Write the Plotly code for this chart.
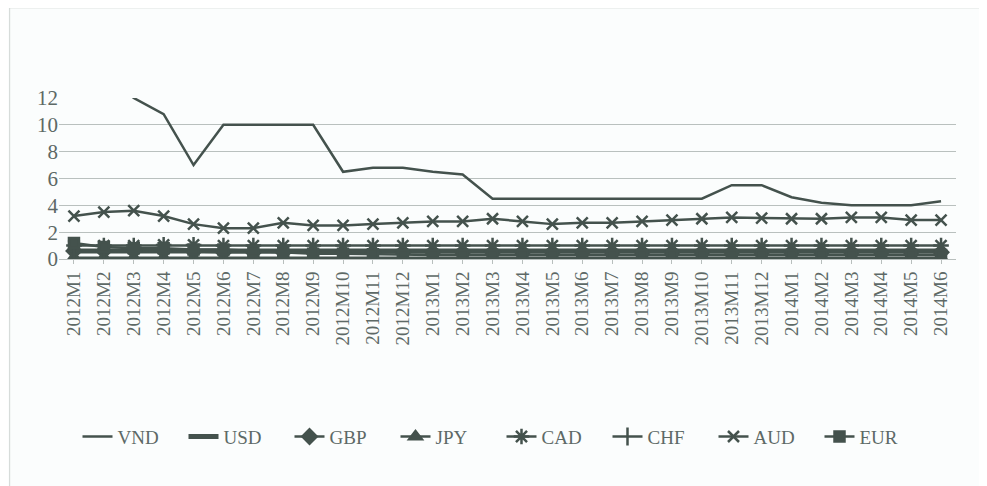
import plotly.graph_objects as go

months = ["2012M1","2012M2","2012M3","2012M4","2012M5","2012M6","2012M7","2012M8","2012M9","2012M10","2012M11","2012M12",
          "2013M1","2013M2","2013M3","2013M4","2013M5","2013M6","2013M7","2013M8","2013M9","2013M10","2013M11","2013M12",
          "2014M1","2014M2","2014M3","2014M4","2014M5","2014M6"]

vnd = [14, 14, 12, 10.8, 7, 10, 10, 10, 10, 6.5, 6.8, 6.8,
       6.5, 6.3, 4.5, 4.5, 4.5, 4.5, 4.5, 4.5, 4.5, 4.5, 5.5, 5.5,
       4.6, 4.2, 4.0, 4.0, 4.0, 4.3]
usd = [0.6]*30
gbp = [0.6, 0.6, 0.6, 0.6, 0.55, 0.5, 0.5, 0.5, 0.5, 0.5, 0.5, 0.5,
       0.5, 0.5, 0.5, 0.5, 0.5, 0.5, 0.5, 0.5, 0.5, 0.5, 0.5, 0.5,
       0.5, 0.5, 0.5, 0.5, 0.5, 0.5]
jpy = [0.1]*30
cad = [1.0, 1.0, 1.0, 1.05, 1.05, 1.0, 1.0, 1.0, 1.0, 1.0, 1.0, 1.0,
       1.0, 1.0, 1.0, 1.0, 1.0, 1.0, 1.0, 1.0, 1.0, 1.0, 1.0, 1.0,
       1.0, 1.0, 1.0, 1.0, 1.0, 1.0]
chf = [0.05]*30
aud = [3.2, 3.5, 3.6, 3.2, 2.6, 2.3, 2.3, 2.7, 2.5, 2.5, 2.6, 2.7,
       2.8, 2.8, 3.0, 2.8, 2.6, 2.7, 2.7, 2.8, 2.9, 3.0, 3.1, 3.05,
       3.0, 3.0, 3.1, 3.1, 2.9, 2.9]
eur = [1.2, 0.9, 0.8, 0.8, 0.7, 0.7, 0.6, 0.5, 0.4, 0.4, 0.35, 0.3,
       0.3, 0.3, 0.3, 0.3, 0.3, 0.3, 0.3, 0.3, 0.3, 0.3, 0.3, 0.3,
       0.3, 0.3, 0.3, 0.3, 0.3, 0.3]

C = "#44524d"
series = [
    ("VND", vnd, 2.5, None, 0),
    ("USD", usd, 5, None, 0),
    ("GBP", gbp, 2.5, "diamond", 11),
    ("JPY", jpy, 2.5, "triangle-up", 11),
    ("CAD", cad, 2.5, "asterisk-open", 13),
    ("CHF", chf, 2.5, "line-ns-open", 13),
    ("AUD", aud, 2.5, "x-thin-open", 11),
    ("EUR", eur, 2.5, "square", 10),
]

fig = go.Figure()
for name, vals, w, sym, size in series:
    if sym is None:
        fig.add_trace(go.Scatter(x=months, y=vals, name=name, mode="lines",
                                 line=dict(color=C, width=w)))
    else:
        fig.add_trace(go.Scatter(x=months, y=vals, name=name, mode="lines+markers",
                                 line=dict(color=C, width=w),
                                 marker=dict(symbol=sym, size=size, color=C,
                                             line=dict(color=C, width=2.5))))

fig.update_layout(
    width=987, height=486,
    margin=dict(l=51, r=39, t=90, b=235, autoexpand=False),
    paper_bgcolor="#fbfdfd", plot_bgcolor="#fbfdfd",
    font=dict(family="Liberation Serif", color="#5d6966", size=19),
    showlegend=True,
    legend=dict(orientation="h", x=0.5, xanchor="center", xref="container",
                y=0.118, yanchor="middle", yref="container",
                font=dict(size=19, color="#5d6966"),
                entrywidth=61, entrywidthmode="pixels",
                tracegroupgap=0, bgcolor="rgba(0,0,0,0)"),
    xaxis=dict(type="category", tickangle=-90, showgrid=False, range=[-0.5, 29.5],
               ticks="outside", ticklen=4, tickcolor="#b8bfbd", automargin=False,
               tickfont=dict(size=19), showline=True, linecolor="#b8bfbd"),
    yaxis=dict(range=[0, 12], dtick=2, showgrid=True, gridcolor="#b9c0be", gridwidth=1,
               zeroline=False, tickfont=dict(size=21), ticks="", showline=False,
               automargin=False),
    shapes=[dict(type="rect", xref="paper", yref="paper",
                 x0=-0.055, x1=1.027, y0=-1.5, y1=1.56,
                 line=dict(color="#d0d6d4", width=1))],
)

fig.write_html("out.html")
